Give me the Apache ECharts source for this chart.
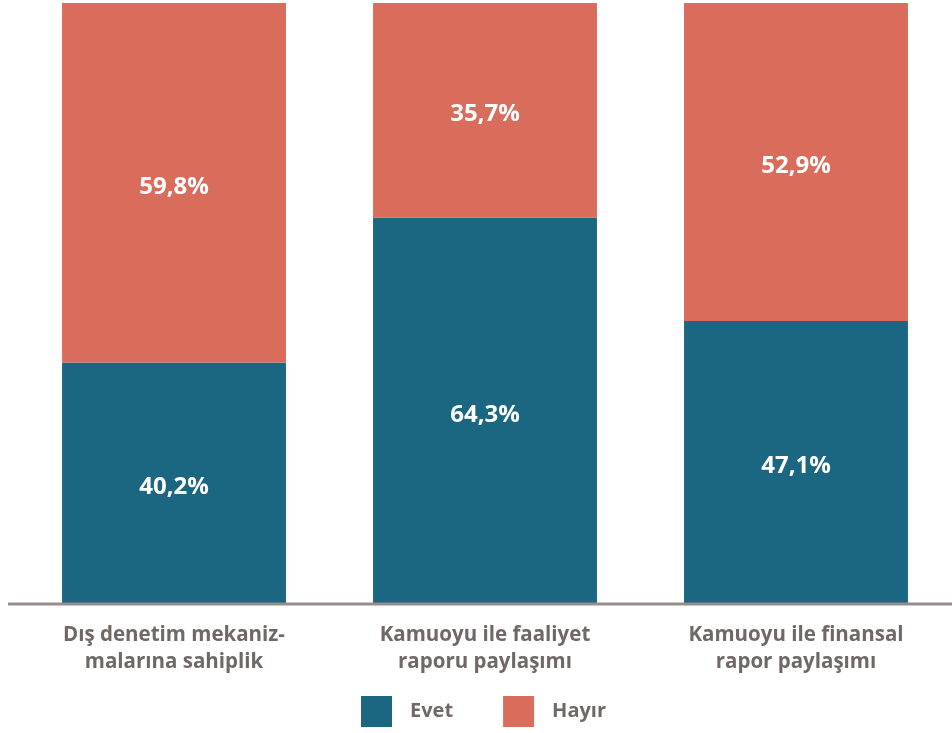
<!DOCTYPE html>
<html><head><meta charset="utf-8">
<script src="https://cdn.jsdelivr.net/npm/echarts@6/dist/echarts.min.js"></script>
<style>html,body{margin:0;padding:0;background:#fff}#c{width:952px;height:733px}</style>
</head><body><div id="c"></div>
<script>
const categories = ['Dış denetim mekaniz-\nmalarına sahiplik', 'Kamuoyu ile faaliyet\nraporu paylaşımı', 'Kamuoyu ile finansal\nrapor paylaşımı'];
const evet = [40.2, 64.3, 47.1];
const hayir = [59.8, 35.7, 52.9];
const seriesNames = ['Evet', 'Hayır'];

const FONT = '"Open Sans", "Noto Sans", sans-serif';
const fmt = p => p.value.toFixed(1).replace('.', ',') + '%';
const lbl = {show: true, position: 'inside', formatter: fmt, color: '#fff', fontFamily: FONT, fontWeight: 'bold', fontSize: 24, offset: [0, 4]};

const chart = echarts.init(document.getElementById('c'));
chart.setOption({
  animation: false,
  grid: {left: 18.5, right: 0.5, top: 3, bottom: 129, containLabel: false},
  xAxis: {
    type: 'category', data: categories,
    axisLine: {show: false}, axisTick: {show: false},
    axisLabel: {color: '#6f6866', fontFamily: FONT, fontWeight: 'bold', fontSize: 20.5, lineHeight: 27, margin: 18}
  },
  yAxis: {type: 'value', min: 0, max: 100, show: false, splitLine: {show: false}},
  legend: {
    left: 361, top: 696, padding: 0, itemWidth: 31, itemHeight: 31, itemGap: 50, icon: 'rect',
    textStyle: {color: '#6f6866', fontFamily: FONT, fontWeight: 'bold', fontSize: 20, padding: [0, 0, 0, 13]},
    data: seriesNames
  },
  graphic: [{type: 'line', shape: {x1: 8, y1: 604, x2: 952, y2: 604}, style: {stroke: '#958d8c', lineWidth: 3}, z: 100}],
  series: [
    {name: seriesNames[0], type: 'bar', stack: 't', data: evet, barWidth: '72%', itemStyle: {color: '#1b6782'}, label: lbl},
    {name: seriesNames[1], type: 'bar', stack: 't', data: hayir, barWidth: '72%', itemStyle: {color: '#d96c5b'}, label: lbl}
  ]
});
</script></body></html>
